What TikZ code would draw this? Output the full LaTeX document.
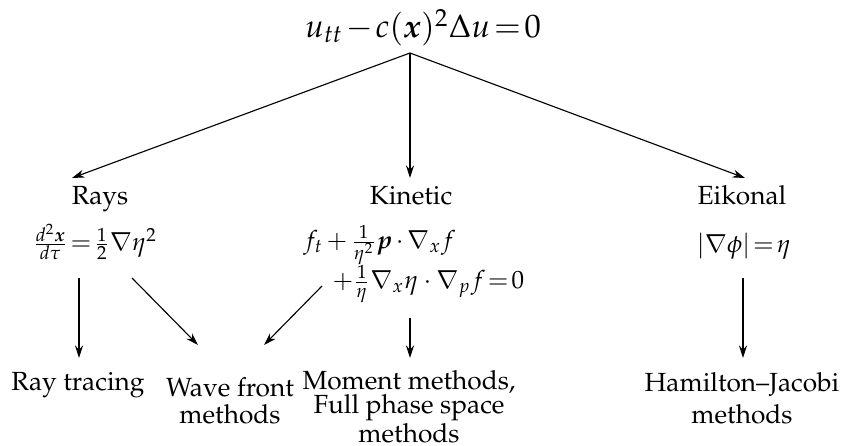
\documentclass[tikz,border=0pt]{standalone}
\usepackage[T1]{fontenc}
\usepackage{amsmath}
\usepackage{mathpazo}
\usepackage{bm}
\usetikzlibrary{arrows.meta}
\begin{document}
\begin{tikzpicture}[x=0.4pt,y=-0.4pt,
  lbl/.style={inner sep=0pt,font=\fontsize{10.5}{10.8}\selectfont,align=center},
  eq/.style={inner sep=0pt,font=\fontsize{10}{12}\selectfont},
  arr/.style={line width=0.45pt,-{Stealth[length=5pt,width=3.2pt]}}]
\useasboundingbox (0,0) rectangle (843,446);
\thickmuskip=2mu plus 1mu\medmuskip=2.5mu
\node[inner sep=0pt,font=\fontsize{13}{15}\selectfont,anchor=base] (top) at (423,38) {$\medmuskip=1.5mu u_{tt}-c(\bm{x})^2\Delta u=0$};
\coordinate (apex) at (410,53);
\node[lbl,anchor=base] (rays) at (100,205) {Rays};
\node[lbl,anchor=base] (kin) at (411,205) {Kinetic};
\node[lbl,anchor=base] (eik) at (742,205) {Eikonal};
\node[eq] (raysEq) at (95,242) {$\frac{d^2\bm{x}}{d\tau}=\frac{1}{2}\nabla\eta^2$};
\node[eq,anchor=west] (kinEqA) at (303,245) {$f_t+\frac{1}{\eta^2}\bm{p}\cdot\nabla_x f$};
\node[eq,anchor=west] (kinEqB) at (332,284) {$\medmuskip=3.5mu +\frac{1}{\eta}\nabla_x\eta\cdot\nabla_p f=0$};
\node[eq] (eikEq) at (744,246) {$|\nabla\phi|=\eta$};
\node[lbl,anchor=north] (rt) at (78,372) {Ray tracing};
\node[lbl,anchor=north,font=\fontsize{10.5}{10.8}\selectfont] (wf) at (230,377) {Wave front\\methods};
\node[lbl,anchor=north,font=\fontsize{10.5}{9.6}\selectfont] (mm) at (409,370) {Moment methods,\\Full phase space\\methods};
\node[lbl,anchor=north,font=\fontsize{10.5}{12.8}\selectfont] (hj) at (742,372) {Hamilton--Jacobi\\methods};
\coordinate (c1) at (72,178);
\coordinate (c2) at (410,178);
\coordinate (c3) at (745,178);
\draw[arr] (apex) -- (c1);
\draw[arr] (apex) -- (c2);
\draw[arr] (apex) -- (c3);
\coordinate (r1) at (79,278); \coordinate (r1e) at (79,358);
\draw[arr] (r1) -- (r1e);
\coordinate (r2) at (132,278); \coordinate (r2e) at (198,345);
\draw[arr] (r2) -- (r2e);
\coordinate (k1) at (322,286); \coordinate (k1e) at (264,345);
\draw[arr] (k1) -- (k1e);
\coordinate (k2) at (410,318); \coordinate (k2e) at (410,358);
\draw[arr] (k2) -- (k2e);
\coordinate (e1) at (743,278); \coordinate (e1e) at (743,358);
\draw[arr] (e1) -- (e1e);
\end{tikzpicture}
\end{document}
